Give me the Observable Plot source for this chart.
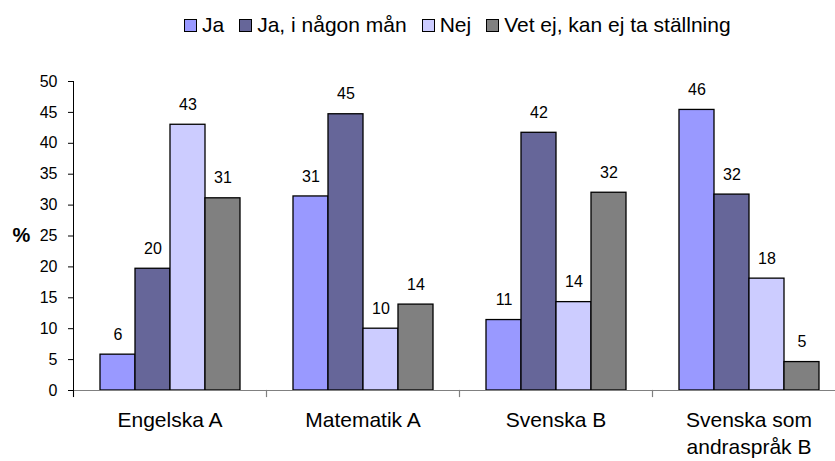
<!DOCTYPE html>
<html><head><meta charset="utf-8">
<script src="https://cdn.jsdelivr.net/npm/d3@7"></script>
<script src="https://cdn.jsdelivr.net/npm/@observablehq/plot@0.6"></script>
<style>
body{margin:0;background:#fff;font-family:"Liberation Sans",Arial,sans-serif;}
#legend{height:56px;display:flex;align-items:flex-start;padding-left:184px;padding-top:13px;font-size:21px;line-height:24px;color:#000;box-sizing:border-box;white-space:nowrap}
.item{display:flex;align-items:center;margin-right:15px}
.sw{width:11px;height:11px;border:1px solid #000;margin-right:5px}
</style></head><body>
<div id="legend"></div>
<div id="chart"></div>
<script>
const categories = ["Engelska A", "Matematik A", "Svenska B", "Svenska som\nandraspråk B"];
const series = ["Ja", "Ja, i någon mån", "Nej", "Vet ej, kan ej ta ställning"];
const colors = ["#9999FF", "#666699", "#CCCCFF", "#808080"];
// bar heights (%) per category
const ja         = [5.8, 31.4, 11.4, 45.4];
const jaNagonMan = [19.7, 44.7, 41.7, 31.7];
const nej        = [43.0, 10.0, 14.3, 18.1];
const vetEj      = [31.1, 13.9, 32.0, 4.6];
// printed value labels
const jaLabels         = [6, 31, 11, 46];
const jaNagonManLabels = [20, 45, 42, 32];
const nejLabels        = [43, 10, 14, 18];
const vetEjLabels      = [31, 14, 32, 5];
const yTicks = [0, 5, 10, 15, 20, 25, 30, 35, 40, 45, 50];

const values = [ja, jaNagonMan, nej, vetEj];
const labels = [jaLabels, jaNagonManLabels, nejLabels, vetEjLabels];
const data = [];
categories.forEach((cat, i) => series.forEach((s, j) => data.push({cat, series: s, value: values[j][i], label: labels[j][i]})));

// legend
const lg = document.getElementById("legend");
series.forEach((s, j) => {
  const it = document.createElement("div"); it.className = "item";
  const sw = document.createElement("div"); sw.className = "sw"; sw.style.background = colors[j];
  const tx = document.createElement("span"); tx.textContent = s;
  it.append(sw, tx); lg.append(it);
});

const chart = Plot.plot({
  width: 835, height: 405,
  marginLeft: 72, marginRight: -10, marginTop: 25, marginBottom: 71,
  style: {fontFamily: "'Liberation Sans', Arial, sans-serif", color: "#000", background: "#fff", overflow: "hidden"},
  fx: {domain: categories, padding: 0, label: null},
  x: {domain: series, paddingInner: 0, paddingOuter: 0.7, axis: null},
  y: {domain: [0, 50], axis: null},
  color: {domain: series, range: colors},
  marks: [
    Plot.barY(data, {fx: "cat", x: "series", y: "value", fill: "series", stroke: "#000", strokeWidth: 1.3}),
    Plot.text(data, {fx: "cat", x: "series", y: "value", text: "label", dy: -20, fontSize: 16, fill: "#000"}),
    Plot.ruleY([0], {stroke: "#808080", strokeWidth: 1.2}),
    Plot.frame({anchor: "left", insetTop: 309, insetBottom: -6, stroke: "#808080", strokeWidth: 1.2}),
    Plot.frame({anchor: "left", facet: "super", insetBottom: -6, stroke: "#000"}),
    Plot.axisY(yTicks, {tickSize: 5, tickPadding: 11, fontSize: 16, stroke: "#000", label: null}),
    Plot.axisFx({anchor: "bottom", tickSize: 0, tickPadding: 17, fontSize: 21, lineHeight: 1.29, label: null}),
    Plot.text(["%"], {facet: "super", frameAnchor: "left", dx: -52, textAnchor: "middle", text: d => d, fontWeight: "bold", fontSize: 20})
  ]
});
document.getElementById("chart").append(chart);
</script>
</body></html>
